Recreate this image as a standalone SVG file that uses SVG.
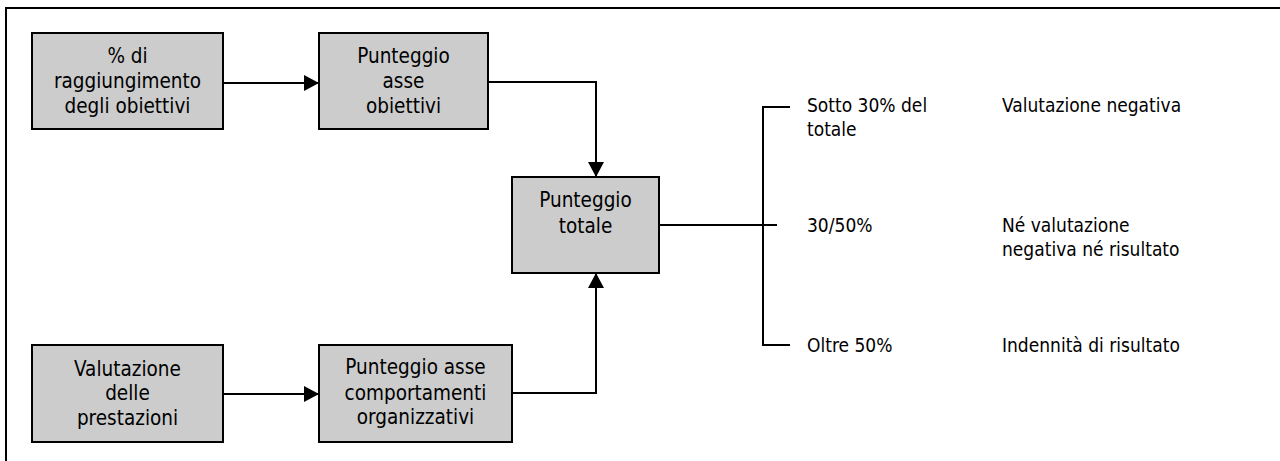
<svg xmlns="http://www.w3.org/2000/svg" width="1280" height="461" viewBox="0 0 1280 461">
<defs>
<style>
.box{fill:#cccccc;stroke:#000;stroke-width:2}
.t{font-family:"DejaVu Sans Condensed","DejaVu Sans",sans-serif;font-size:19px;fill:#000}
.b{font-size:20.5px;text-anchor:middle}
.ln{fill:none;stroke:#000;stroke-width:2}
</style>
<marker id="ah" markerWidth="15" markerHeight="16" refX="15" refY="8" orient="auto" markerUnits="userSpaceOnUse">
<path d="M0,0 L15,8 L0,16 Z" fill="#000"/>
</marker>
</defs>
<rect x="0" y="0" width="1280" height="461" fill="#fff"/>
<rect x="6" y="8" width="1300" height="480" fill="none" stroke="#000" stroke-width="2"/>
<g id="connectors">
<line class="ln" x1="223" y1="83" x2="319" y2="83" marker-end="url(#ah)"/>
<polyline class="ln" points="488,82 596,82 596,177" marker-end="url(#ah)"/>
<line class="ln" x1="223" y1="394" x2="319" y2="394" marker-end="url(#ah)"/>
<polyline class="ln" points="512,393 596,393 596,273" marker-end="url(#ah)"/>
<line class="ln" x1="659" y1="225" x2="777" y2="225"/>
<polyline class="ln" points="790,107 763,107 763,345 790,345"/>
</g>
<g id="n1">
<rect class="box" x="32" y="33" width="191" height="96"/>
<text class="t b" x="127.5" y="63">% di</text>
<text class="t b" x="127.5" y="88">raggiungimento</text>
<text class="t b" x="127.5" y="113">degli obiettivi</text>
</g>
<g id="n2">
<rect class="box" x="319" y="33" width="169" height="96"/>
<text class="t b" x="403.5" y="63">Punteggio</text>
<text class="t b" x="403.5" y="88">asse</text>
<text class="t b" x="403.5" y="113">obiettivi</text>
</g>
<g id="n3">
<rect class="box" x="512" y="177" width="147" height="96"/>
<text class="t b" x="585.5" y="207">Punteggio</text>
<text class="t b" x="585.5" y="233">totale</text>
</g>
<g id="n4">
<rect class="box" x="32" y="345" width="191" height="97"/>
<text class="t b" x="127.5" y="376">Valutazione</text>
<text class="t b" x="127.5" y="400">delle</text>
<text class="t b" x="127.5" y="425">prestazioni</text>
</g>
<g id="n5">
<rect class="box" x="319" y="345" width="193" height="97"/>
<text class="t b" x="415.5" y="374">Punteggio asse</text>
<text class="t b" x="415.5" y="400">comportamenti</text>
<text class="t b" x="415.5" y="424">organizzativi</text>
</g>
<g id="labels">
<text class="t" x="807" y="112">Sotto 30% del</text>
<text class="t" x="807" y="136">totale</text>
<text class="t" x="807" y="232">30/50%</text>
<text class="t" x="807" y="352">Oltre 50%</text>
<text class="t" x="1002" y="112">Valutazione negativa</text>
<text class="t" x="1002" y="232">Né valutazione</text>
<text class="t" x="1002" y="256">negativa né risultato</text>
<text class="t" x="1002" y="352">Indennità di risultato</text>
</g>
</svg>
